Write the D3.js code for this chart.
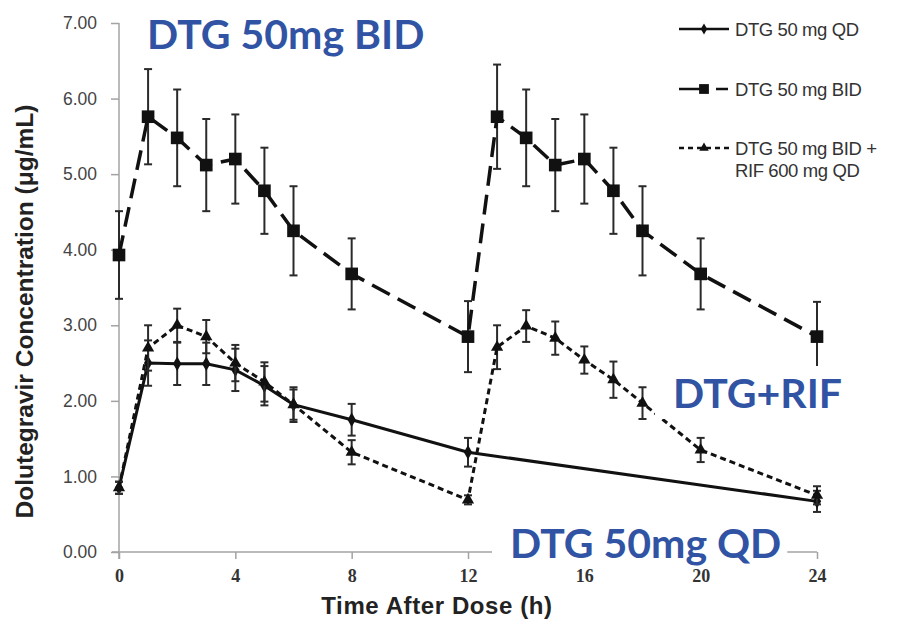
<!DOCTYPE html>
<html>
<head>
<meta charset="utf-8">
<script src="https://cdn.jsdelivr.net/npm/d3@7/dist/d3.min.js"></script>
<style>
  html, body { margin: 0; padding: 0; background: #fff; }
  svg { display: block; }
</style>
</head>
<body>
<svg id="chart" width="901" height="626"></svg>
<script>
// Time points (hours after dose)
const hoursQD = [0, 1, 2, 3, 4, 5, 6, 8, 12, 24];
const hoursBID = [0, 1, 2, 3, 4, 5, 6, 8, 12, 13, 14, 15, 16, 17, 18, 20, 24];

// DTG 50 mg QD: mean and SD (µg/mL)
const qdMean = [0.85, 2.50, 2.49, 2.49, 2.41, 2.20, 1.95, 1.75, 1.32, 0.67];
const qdSD   = [0.08, 0.30, 0.28, 0.28, 0.28, 0.26, 0.23, 0.21, 0.19, 0.14];

// DTG 50 mg BID
const bidMean = [3.93, 5.76, 5.48, 5.12, 5.20, 4.78, 4.25, 3.68, 2.85,
                 5.76, 5.48, 5.12, 5.20, 4.78, 4.25, 3.68, 2.85];
const bidSD   = [0.58, 0.63, 0.64, 0.61, 0.59, 0.57, 0.59, 0.47, 0.47,
                 0.69, 0.64, 0.61, 0.59, 0.57, 0.59, 0.47, 0.46];

// DTG 50 mg BID + RIF 600 mg QD
const rifMean = [0.85, 2.70, 3.00, 2.85, 2.50, 2.25, 1.95, 1.32, 0.69,
                 2.71, 2.99, 2.83, 2.54, 2.28, 1.97, 1.35, 0.75];
const rifSD   = [0.08, 0.30, 0.22, 0.22, 0.24, 0.26, 0.20, 0.16, 0.06,
                 0.29, 0.21, 0.22, 0.18, 0.24, 0.21, 0.16, 0.12];

const xTicks = [0, 4, 8, 12, 16, 20, 24];
const yTicks = [0, 1, 2, 3, 4, 5, 6, 7];

const legendLabels = [["DTG 50 mg QD"], ["DTG 50 mg BID"], ["DTG 50 mg BID +", "RIF 600 mg QD"]];
const annotations = ["DTG 50mg BID", "DTG+RIF", "DTG 50mg QD"];

const svg = d3.select("#chart");
const x = d3.scaleLinear().domain([0, 24]).range([119, 817]);
const y = d3.scaleLinear().domain([0, 7]).range([552, 23]);

const axisColor = "#a3a3a3";

// ---- axes ----
const gx = svg.append("g").attr("transform", `translate(0,${y(0)})`)
  .call(d3.axisBottom(x).tickValues(xTicks).tickSize(7).tickSizeOuter(0).tickPadding(10));
gx.select(".domain").attr("stroke", axisColor).attr("stroke-width", 1.5)
  .attr("d", `M${x(0) - 7},0H${x(24)}`);
gx.selectAll(".tick line").attr("stroke", axisColor).attr("stroke-width", 1.5);
gx.selectAll(".tick text")
  .attr("font-family", "'Liberation Serif', 'Times New Roman', serif")
  .attr("font-weight", "bold").attr("font-size", 18).attr("fill", "#333");

const gy = svg.append("g").attr("transform", `translate(${x(0)},0)`)
  .call(d3.axisLeft(y).tickValues(yTicks).tickFormat(d3.format(".2f"))
    .tickSize(8).tickSizeOuter(0).tickPadding(14));
gy.select(".domain").attr("stroke", axisColor).attr("stroke-width", 1.5)
  .attr("d", `M0,${y(7)}V${y(0) + 7}`);
gy.selectAll(".tick line").attr("stroke", axisColor).attr("stroke-width", 1.5);
gy.selectAll(".tick text")
  .attr("font-family", "'Liberation Sans', Arial, sans-serif")
  .attr("font-size", 17.5).attr("fill", "#444");

// axis titles
svg.append("text")
  .attr("x", 437).attr("y", 614).attr("text-anchor", "middle")
  .attr("font-family", "'Liberation Sans', Arial, sans-serif")
  .attr("font-weight", "bold").attr("font-size", 24).attr("fill", "#222")
  .attr("letter-spacing", 0.6)
  .text("Time After Dose (h)");

svg.append("text")
  .attr("transform", `translate(33,${(y(0) + y(7)) / 2 + 24}) rotate(-90)`)
  .attr("text-anchor", "middle")
  .attr("font-family", "'Liberation Sans', Arial, sans-serif")
  .attr("font-weight", "bold").attr("font-size", 24.5).attr("fill", "#222")
  .text("Dolutegravir Concentration (μg/mL)");

// ---- series ----
const series = [
  { hours: hoursQD,  mean: qdMean,  sd: qdSD,  dash: null,   width: 3,   symbol: d3.symbolDiamond,  size: 60 },
  { hours: hoursBID, mean: bidMean, sd: bidSD, dash: "20,9", width: 3.5, symbol: d3.symbolSquare,   size: 160 },
  { hours: hoursBID, mean: rifMean, sd: rifSD, dash: "6,4",  width: 3,   symbol: d3.symbolTriangle, size: 65 }
];

const line = d3.line().x(d => x(d.t)).y(d => y(d.v));

series.forEach(s => {
  const pts = s.hours.map((t, i) => ({ t, v: s.mean[i], e: s.sd[i] }));
  const g = svg.append("g");

  // error bars
  const eb = g.selectAll(".eb").data(pts).join("g").attr("stroke", "#2a2a2a").attr("stroke-width", 2);
  eb.append("line").attr("x1", d => x(d.t)).attr("x2", d => x(d.t))
    .attr("y1", d => y(d.v - d.e)).attr("y2", d => y(d.v + d.e));
  eb.append("line").attr("x1", d => x(d.t) - 4).attr("x2", d => x(d.t) + 4)
    .attr("y1", d => y(d.v + d.e)).attr("y2", d => y(d.v + d.e));
  eb.append("line").attr("x1", d => x(d.t) - 4).attr("x2", d => x(d.t) + 4)
    .attr("y1", d => y(d.v - d.e)).attr("y2", d => y(d.v - d.e));

  g.append("path").datum(pts).attr("d", line)
    .attr("fill", "none").attr("stroke", "#111").attr("stroke-width", s.width)
    .attr("stroke-dasharray", s.dash);

  g.selectAll(".pt").data(pts).join("path")
    .attr("transform", d => `translate(${x(d.t)},${y(d.v)})`)
    .attr("d", d3.symbol().type(s.symbol).size(s.size))
    .attr("fill", "#111");
});

// ---- legend ----
const legendRows = [29, 89, 148];
const legendDash = [null, "25,12,12", "5,4"];
const legend = svg.append("g");
series.forEach((s, i) => {
  const ly = legendRows[i];
  legend.append("line").attr("x1", 679).attr("x2", 729).attr("y1", ly).attr("y2", ly)
    .attr("stroke", "#111").attr("stroke-width", 2.5)
    .attr("stroke-dasharray", legendDash[i]);
  legend.append("path").attr("transform", `translate(704,${ly})`)
    .attr("d", d3.symbol().type(s.symbol).size(s.size * 0.6)).attr("fill", "#111");
  legendLabels[i].forEach((txt, k) => {
    legend.append("text").attr("x", 735).attr("y", ly + 6.5 + k * 22)
      .attr("font-family", "'Liberation Sans', Arial, sans-serif")
      .attr("font-size", 18.5).attr("fill", "#333").attr("letter-spacing", -0.4)
      .text(txt);
  });
});

// ---- blue annotations ----
const annoFont = "Lato, 'Open Sans', sans-serif";
const annoPos = [[147, 49], [673, 408], [510, 558]];
annotations.forEach((txt, i) => {
  const t = svg.append("text").attr("x", annoPos[i][0]).attr("y", annoPos[i][1])
    .attr("font-family", annoFont).attr("font-weight", "bold").attr("font-size", 41)
    .attr("fill", "#3153a3").text(txt);
  if (i > 0) {
    const b = t.node().getBBox();
    svg.insert("rect", () => t.node())
      .attr("x", b.x - 18).attr("y", b.y - 2).attr("width", b.width + 24).attr("height", b.height + 4)
      .attr("fill", "#fff");
  }
});
</script>
</body>
</html>
